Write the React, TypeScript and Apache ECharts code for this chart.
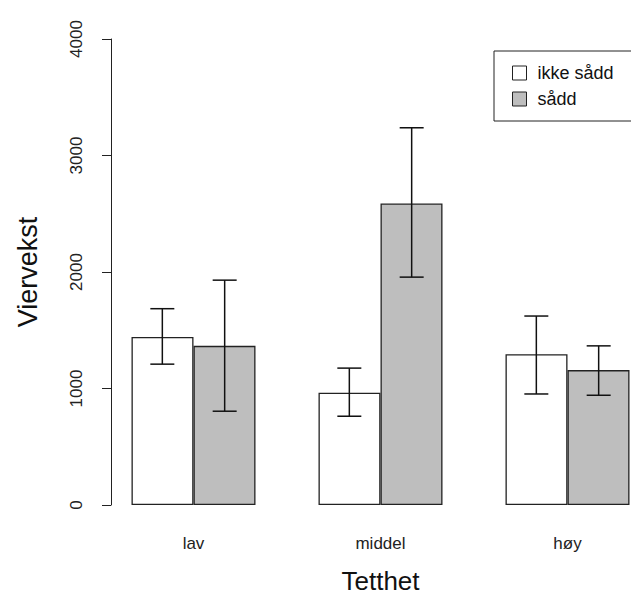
import React, { useEffect, useRef } from "react";
import * as echarts from "echarts";

const categories = ["lav", "middel", "høy"];
const seriesNames = ["ikke sådd", "sådd"];
const ikkeSadd = [1443, 964, 1295];
const sadd = [1366, 2588, 1158];
const ikkeLow = [1209, 762, 953];
const ikkeHigh = [1685, 1175, 1622];
const saddLow = [805, 1956, 942];
const saddHigh = [1930, 3238, 1366];
const yTicks = { min: 0, max: 4000, interval: 1000 };

const FONT = "Liberation Sans, Arial, sans-serif";

function errorSeries(low: number[], high: number[], side: number) {
  return {
    type: "custom",
    silent: true,
    z: 10,
    data: categories.map((_, i) => [i, low[i], high[i]]),
    encode: { x: 0, y: [1, 2] },
    renderItem: (params: any, api: any) => {
      const idx = api.value(0);
      const band = api.size([1, 0])[0];
      const lo = api.coord([idx, api.value(1)]);
      const hi = api.coord([idx, api.value(2)]);
      const xc = lo[0] + (side * band) / 6;
      const cap = 12;
      const style = { stroke: "#111", lineWidth: 1.5 };
      return {
        type: "group",
        children: [
          { type: "line", shape: { x1: xc, y1: lo[1], x2: xc, y2: hi[1] }, style },
          { type: "line", shape: { x1: xc - cap, y1: lo[1], x2: xc + cap, y2: lo[1] }, style },
          { type: "line", shape: { x1: xc - cap, y1: hi[1], x2: xc + cap, y2: hi[1] }, style },
        ],
      };
    },
  };
}

export default function App() {
  const ref = useRef<HTMLDivElement>(null);
  useEffect(() => {
    const chart = echarts.init(ref.current!, null, { renderer: "svg" });
    chart.setOption({
      animation: false,
      backgroundColor: "#fff",
      textStyle: { fontFamily: FONT },
      grid: { left: 100, top: 39, right: -30, bottom: 93, outerBoundsMode: "none", containLabel: false },
      legend: {
        data: seriesNames,
        orient: "vertical",
        left: 494,
        top: 51,
        padding: [13, 40, 13, 18],
        itemGap: 8,
        itemWidth: 14,
        itemHeight: 14,
        borderColor: "#222",
        borderWidth: 1,
        icon: "rect",
        itemStyle: { borderColor: "#222", borderWidth: 1 },
        textStyle: { fontSize: 18, lineHeight: 18, color: "#111", fontFamily: FONT, padding: [0, 0, 0, 6] },
      },
      xAxis: {
        type: "category",
        data: categories,
        axisLine: { show: false },
        axisTick: { show: false },
        axisLabel: { fontSize: 17, color: "#222", margin: 30, fontFamily: FONT },
        name: "Tetthet",
        nameLocation: "middle",
        nameGap: 63,
        nameTextStyle: { fontSize: 26, color: "#111", fontFamily: FONT },
      },
      yAxis: {
        type: "value",
        min: yTicks.min,
        max: yTicks.max,
        interval: yTicks.interval,
        offset: -11,
        splitLine: { show: false },
        axisLine: { show: true, lineStyle: { color: "#222", width: 1 } },
        axisTick: { show: true, length: 9, lineStyle: { color: "#222" } },
        axisLabel: {
          rotate: 90,
          fontSize: 17,
          color: "#222",
          margin: 26,
          fontFamily: FONT,
          formatter: (v: number) => String(v),
        },
        name: "Viervekst",
        nameLocation: "middle",
        nameRotate: 90,
        nameGap: 70,
        nameTextStyle: { fontSize: 27, color: "#111", fontFamily: FONT },
      },
      series: [
        {
          name: seriesNames[0],
          type: "bar",
          data: ikkeSadd,
          barWidth: 62,
          barGap: "0%",
          itemStyle: { color: "#ffffff", borderColor: "#222", borderWidth: 1.3 },
        },
        {
          name: seriesNames[1],
          type: "bar",
          data: sadd,
          barWidth: 62,
          barGap: "0%",
          itemStyle: { color: "#bebebe", borderColor: "#222", borderWidth: 1.3 },
        },
        errorSeries(ikkeLow, ikkeHigh, -1),
        errorSeries(saddLow, saddHigh, 1),
      ],
    });
    return () => chart.dispose();
  }, []);
  return (
    <div
      ref={ref}
      style={{ position: "absolute", left: 0, top: 0, width: 631, height: 598 }}
    />
  );
}
